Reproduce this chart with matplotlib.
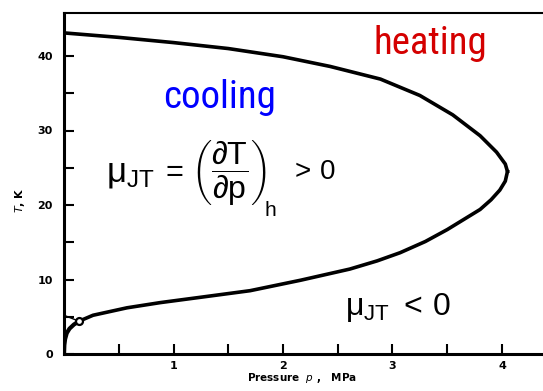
import matplotlib
matplotlib.use("Agg")
import matplotlib.pyplot as plt
from matplotlib import font_manager as fm

# ---- data ----
upper_p = [0.0, 0.5, 1.0, 1.5, 2.0, 2.43, 2.89, 3.25, 3.55, 3.80, 3.95, 4.03, 4.05]
upper_T = [43.1, 42.5, 41.8, 41.0, 39.9, 38.6, 36.9, 34.7, 32.1, 29.3, 27.1, 25.5, 24.5]
lower_p = [4.05, 4.03, 3.98, 3.90, 3.80, 3.50, 3.30, 3.07, 2.86, 2.61, 2.16, 1.70, 1.24, 0.88, 0.575, 0.265, 0.137]
lower_T = [24.5, 23.2, 22.0, 20.7, 19.4, 16.7, 15.1, 13.6, 12.5, 11.4, 9.9, 8.5, 7.6, 6.9, 6.2, 5.2, 4.4]
vapor_p = [0.0, 0.003, 0.01, 0.025, 0.05, 0.09, 0.137]
vapor_T = [0.0, 1.2, 2.0, 2.8, 3.4, 3.95, 4.4]
thin_p = [0.0, 0.137]
thin_T = [5.2, 4.4]
crit_p = [0.137]
crit_T = [4.4]
xticks_major = [1, 2, 3, 4]
xticks_minor = [0.5, 1.5, 2.5, 3.5]
yticks_major = [0, 10, 20, 30, 40]
yticks_minor = [5, 15, 25, 35]

names = {f.name for f in fm.fontManager.ttflist}
cond = next((n for n in ['Roboto Condensed', 'PT Sans Narrow', 'Archivo Narrow', 'Liberation Sans']
             if n in names), 'DejaVu Sans')

W, H = 543, 391
fig = plt.figure(figsize=(W/100, H/100), dpi=100)
x0, x1 = 64, 543
y0, y1 = 354, 13
ax = fig.add_axes([x0/W, 1 - y0/H, (x1 - x0)/W, (y0 - y1)/H])
ax.set_xlim(0, (x1 - x0)/109.5)
ax.set_ylim(0, (y0 - y1)/7.45)

ax.plot(upper_p, upper_T, color='black', lw=2.6, solid_joinstyle='round', zorder=3)
ax.plot(lower_p, lower_T, color='black', lw=2.6, solid_joinstyle='round', zorder=3)
ax.plot(vapor_p, vapor_T, color='black', lw=3.0, solid_joinstyle='round', zorder=3)
ax.plot(thin_p, thin_T, color='black', lw=1.0, zorder=3)
ax.plot(crit_p, crit_T, 'o', ms=5, mfc='white', mec='black', mew=1.6, zorder=4)

ax.spines['right'].set_visible(False)
ax.spines['left'].set_linewidth(2.2)
ax.spines['bottom'].set_linewidth(2.2)
ax.spines['top'].set_linewidth(1.5)

ax.set_xticks(xticks_major)
ax.set_xticks(xticks_minor, minor=True)
ax.set_yticks(yticks_major)
ax.set_yticks(yticks_minor, minor=True)
ax.tick_params(axis='both', which='both', direction='in', length=7, width=1.5, top=False, right=False)
ax.tick_params(axis='x', which='major', pad=5)
ax.tick_params(axis='y', which='major', pad=8)
for lab in ax.get_xticklabels() + ax.get_yticklabels():
    lab.set_fontweight('bold')
    lab.set_fontsize(8)

fig.text(302/W, 1 - 378/H, 'Pressure  $p$ ,   MPa', ha='center', va='center',
         fontsize=7.5, fontweight='bold')
fig.text(20/W, 1 - 200/H, '$T$, K', ha='center', va='center', rotation=90,
         fontsize=8, fontweight='bold')

fig.text(430/W, 1 - 43/H, 'heating', color='#d40000', ha='center', va='center',
         fontsize=28, family=[cond, 'DejaVu Sans'])
fig.text(220/W, 1 - 97/H, 'cooling', color='#0000ff', ha='center', va='center',
         fontsize=28, family=[cond, 'DejaVu Sans'])

plt.rcParams['mathtext.fontset'] = 'custom'
plt.rcParams['mathtext.rm'] = 'Liberation Sans'
plt.rcParams['mathtext.it'] = 'Liberation Sans:italic'
plt.rcParams['mathtext.sf'] = 'Liberation Sans'

# formula: mu_JT = (dT/dp)_h > 0
fig.text(106/W, 1 - 182/H, r'$\mathrm{\mu}_{\mathrm{JT}}$', ha='left', va='baseline',
         fontsize=25, family='Liberation Sans')
fig.text(174/W, 1 - 173/H, '=', ha='center', va='center',
         fontsize=22, family='Liberation Sans')
fig.text(191/W, 1 - 173/H,
         r'$\left(\dfrac{\partial\mathrm{T}}{\partial\mathrm{p}}\right)$',
         ha='left', va='center', fontsize=23, family='Liberation Sans')
fig.text(265/W, 1 - 216/H, 'h', ha='left', va='baseline',
         fontsize=15, family='Liberation Sans')
fig.text(290/W, 1 - 172/H, r'$>\,0$', ha='left', va='center',
         fontsize=20, family='Liberation Sans')

fig.text(345/W, 1 - 307/H, r'$\mathrm{\mu}_{\mathrm{JT}}\ <\,0$',
         ha='left', va='center', fontsize=23, family='Liberation Sans')

fig.savefig('out.png', dpi=100)
